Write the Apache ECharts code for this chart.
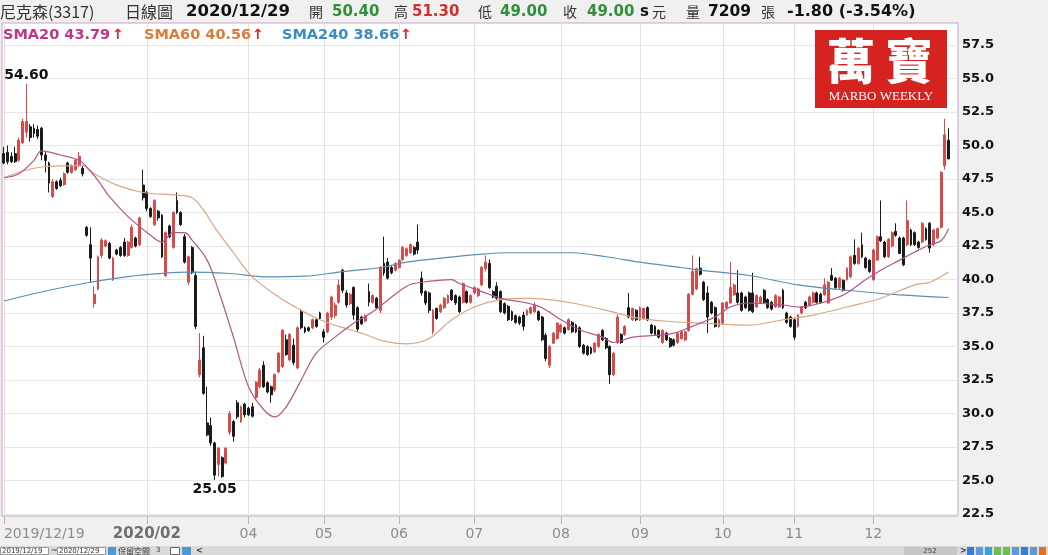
<!DOCTYPE html>
<html><head><meta charset="utf-8">
<script src="https://cdn.jsdelivr.net/npm/echarts@6/dist/echarts.min.js"></script>
<style>html,body{margin:0;padding:0;background:#f0f0f0;}#c{width:1048px;height:555px;}</style>
</head><body><div id="c"></div>
<script>
// [open, close, low, high] per trading day
const candles = [
[49.4,48.7,48.6,49.9],[49.5,48.8,48.6,50.0],[49.2,48.8,48.7,49.5],[49.4,48.8,48.7,49.9],[48.9,50.4,48.8,50.6],
[50.2,51.8,50.1,52.0],[51.0,51.8,50.6,54.6],[51.4,50.6,50.3,51.6],[51.3,50.9,50.6,51.6],[51.2,50.7,50.5,51.5],
[51.3,49.3,48.9,51.4],[49.3,48.9,48.0,49.5],[48.7,47.2,46.5,48.8],[46.2,47.3,46.1,47.5],[47.3,46.8,46.7,47.4],
[47.4,47.0,46.9,47.6],[47.1,47.9,47.0,48.0],[48.7,48.0,47.9,48.8],[48.0,48.5,47.9,48.6],[48.2,48.9,48.1,49.0],
[48.5,49.2,48.4,49.5],[48.3,47.9,47.7,48.5],[43.9,43.3,43.2,44.0],[42.6,41.6,39.8,43.9],[38.2,38.9,37.9,39.5],
[39.3,41.7,39.2,41.8],[41.8,42.95,41.6,43.1],[42.5,42.9,42.4,43.0],[42.7,41.6,41.5,42.8],[40.0,41.6,39.9,41.7],
[42.2,41.9,41.8,42.3],[42.4,41.8,41.7,42.5],[42.8,41.8,41.7,43.1],[41.8,42.8,41.7,42.9],[42.4,43.9,42.3,44.1],
[43.1,42.5,42.4,43.2],[42.6,44.6,42.5,44.7],[47.05,46.1,45.9,48.2],[46.5,45.3,45.1,46.6],[45.3,44.7,44.6,45.4],
[44.1,45.9,44.0,46.0],[45.1,44.6,44.4,45.2],[44.8,41.7,41.6,44.9],[40.3,43.5,40.2,43.6],[44.0,43.2,43.1,44.1],
[42.4,45.0,42.3,45.1],[45.9,45.0,44.9,46.5],[45.0,44.1,44.0,45.1],[43.2,41.3,41.2,43.4],[39.8,41.7,39.6,41.8],
[42.4,40.5,40.4,42.5],[40.3,36.5,36.3,40.6],[32.9,34.0,32.7,36.0],[34.9,31.5,31.4,35.8],[29.3,28.4,28.3,32.0],
[29.1,27.8,27.6,29.7],[27.8,25.4,25.05,27.9],[26.2,27.4,25.3,27.5],[26.7,25.3,25.2,26.8],[26.3,27.4,26.2,27.5],
[28.6,30.0,28.4,30.2],[29.4,28.3,27.9,29.5],[30.8,29.75,29.6,31.0],[29.4,30.5,29.3,30.6],[30.7,29.9,29.7,30.8],
[30.4,29.9,29.8,30.5],[30.5,29.8,29.7,30.8],[31.2,32.35,31.0,32.4],[32.0,33.25,31.9,33.4],[33.6,32.0,31.9,33.9],
[32.3,31.6,31.5,32.4],[32.0,31.4,30.8,32.1],[31.75,32.9,31.6,33.0],[33.1,34.5,33.0,34.6],[33.5,36.2,33.4,36.3],
[35.5,34.4,34.3,35.9],[34.0,35.9,33.9,36.0],[35.1,33.8,33.6,35.6],[33.4,36.4,33.3,36.5],[37.6,36.4,36.3,37.8],
[36.4,36.1,36.0,36.5],[36.4,36.2,36.1,36.5],[36.4,37.0,36.3,37.1],[37.0,36.5,36.4,37.1],[37.5,37.1,37.0,37.6],
[36.1,35.7,35.3,36.3],[36.1,37.5,36.0,37.6],[37.2,38.7,37.0,38.8],[37.3,38.1,37.1,38.3],[38.3,39.6,38.2,40.0],
[40.7,39.2,39.0,40.8],[39.0,38.1,37.9,39.2],[38.2,38.9,38.1,39.0],[39.4,37.35,37.0,39.5],[37.9,36.3,36.1,38.0],
[37.2,36.7,36.6,37.3],[36.9,37.3,36.8,37.4],[39.1,38.3,38.0,39.7],[38.3,38.8,38.2,38.9],[38.6,37.9,37.8,38.7],
[37.7,40.9,37.5,41.0],[41.2,40.5,40.3,43.2],[41.3,40.1,40.0,41.6],[40.9,40.5,40.4,41.0],[40.7,41.2,40.6,41.3],
[40.9,41.45,40.8,41.5],[41.5,42.4,41.4,42.5],[41.8,42.3,41.7,42.4],[42.0,42.6,41.9,42.7],[42.4,41.9,41.8,42.5],
[42.8,42.2,41.9,44.1],[40.1,39.0,38.8,40.6],[39.1,38.25,38.1,39.2],[39.0,37.7,37.5,39.1],[36.1,37.7,35.9,37.8],
[37.85,37.1,37.0,37.9],[37.6,38.1,37.5,38.2],[37.9,38.6,37.8,38.7],[38.25,38.8,38.2,38.9],[39.2,38.5,38.4,39.3],
[38.8,38.25,38.1,38.9],[38.7,37.6,37.5,38.8],[38.3,39.7,38.2,39.8],[39.1,38.3,38.2,39.2],[38.3,38.8,38.2,38.9],
[39.0,39.4,38.9,39.5],[38.8,39.3,38.7,39.4],[39.6,40.9,39.5,41.0],[40.8,41.3,40.6,41.8],[41.2,39.4,39.3,41.5],
[39.1,38.7,38.6,39.2],[39.5,38.6,38.5,39.8],[39.1,37.6,37.5,39.2],[38.2,37.5,37.4,38.3],[38.0,37.0,36.9,38.1],
[37.6,37.0,36.9,37.7],[37.3,36.8,36.7,37.4],[37.2,36.75,36.6,37.3],[37.35,36.5,36.2,37.6],[37.35,37.7,37.3,37.8],
[37.5,37.9,37.4,38.0],[37.6,38.1,37.5,38.3],[37.6,37.0,36.9,37.7],[37.2,35.5,35.4,37.3],[35.85,34.1,33.9,36.0],
[33.6,35.0,33.4,35.1],[35.25,36.0,35.2,36.1],[35.6,36.75,35.5,36.8],[36.1,36.6,36.0,36.7],[36.4,36.0,35.9,36.5],
[36.25,37.0,36.2,37.1],[36.8,36.1,36.0,36.9],[36.6,36.1,36.0,36.7],[36.4,35.0,34.9,36.5],[35.1,34.5,34.4,35.2],
[35.0,34.4,34.3,35.1],[34.9,34.5,34.4,35.0],[34.6,35.25,34.5,35.3],[35.0,35.9,34.9,36.0],[36.2,35.5,35.4,36.3],
[35.6,34.9,34.8,35.7],[35.0,32.9,32.2,35.1],[32.9,34.5,32.8,34.6],[35.3,37.2,35.2,37.4],[35.9,35.3,35.2,36.0],
[35.9,36.5,35.8,36.6],[37.9,37.2,37.1,39.0],[37.0,37.85,36.9,37.9],[37.7,37.0,36.9,37.8],[37.0,37.9,36.9,38.0],
[37.1,37.85,37.0,37.9],[37.9,37.0,36.9,38.0],[36.6,36.0,35.9,36.7],[36.5,35.9,35.8,36.6],[36.2,35.7,35.6,36.3],
[35.3,36.2,35.2,36.3],[36.0,35.5,35.4,36.1],[35.6,35.0,34.9,35.7],[35.5,35.1,35.0,35.6],[35.3,36.0,35.2,36.1],
[35.6,36.1,35.5,36.2],[35.5,36.1,35.4,36.2],[36.2,38.9,36.1,39.0],[38.9,40.6,38.8,41.8],[39.3,40.8,39.2,40.9],
[40.85,40.4,40.3,41.7],[39.8,38.5,38.4,39.9],[39.0,37.2,36.0,39.5],[38.3,37.5,37.4,38.4],[37.9,36.5,36.4,38.0],
[36.5,37.0,36.4,37.1],[36.75,38.25,36.6,38.3],[37.9,38.3,37.8,38.4],[38.25,39.4,38.2,41.3],[38.85,39.6,38.8,39.7],
[39.0,38.3,38.2,40.7],[39.0,37.7,37.6,39.1],[38.7,37.9,37.8,38.8],[39.0,37.7,37.6,39.1],[39.0,37.6,37.5,40.5],
[37.95,38.8,37.9,38.9],[38.25,38.7,38.2,38.8],[39.2,38.3,38.2,39.3],[38.5,37.9,37.8,38.6],[38.3,37.8,37.7,38.4],
[37.95,38.8,37.9,38.9],[37.95,38.7,37.9,38.8],[39.2,37.9,37.8,39.3],[37.5,36.8,36.7,37.6],[37.2,36.5,36.4,37.3],
[37.0,35.7,35.5,37.1],[36.5,37.35,36.4,37.4],[37.5,37.95,37.4,38.0],[38.3,37.9,37.8,38.4],[38.1,38.7,38.0,38.8],
[38.3,39.0,38.2,39.1],[39.0,38.3,38.2,39.1],[38.9,38.3,38.2,39.0],[38.85,39.6,38.8,40.1],[38.25,39.8,38.2,39.9],
[40.3,39.95,39.9,40.85],[40.1,39.4,39.3,40.2],[39.4,40.1,39.3,40.2],[39.95,39.2,39.1,40.0],[40.0,40.85,39.9,40.9],
[40.2,41.7,40.1,41.8],[41.8,41.2,41.1,43.0],[41.2,42.35,41.1,42.4],[42.6,41.7,41.6,43.5],[41.6,40.9,40.8,41.7],
[41.45,40.6,40.5,41.5],[40.0,42.2,39.9,42.3],[41.45,43.2,41.4,43.3],[43.2,42.9,42.8,45.9],[42.8,41.7,41.6,42.9],
[41.7,43.0,41.6,43.1],[42.5,43.5,42.4,43.6],[43.6,43.3,43.2,44.2],[43.1,41.95,41.9,43.2],[43.1,41.1,41.0,43.2],
[42.6,44.4,42.5,45.9],[43.7,42.6,42.5,43.8],[43.5,42.6,42.5,43.6],[42.8,42.4,42.3,42.9],[42.8,44.2,42.7,44.3],
[43.8,43.0,42.9,43.9],[44.2,42.35,42.0,44.3],[42.6,43.7,42.5,43.8],[43.1,43.8,43.0,43.9],[43.9,48.0,43.8,48.1],
[48.5,50.8,48.2,52.0],[50.4,49.0,49.0,51.3]
];

// moving averages: [day index, value]
const sma20 = [[0,47.6],[4,47.9],[8,48.9],[10,49.6],[15,49.3],[20,48.9],[22,48.4],[25,47.4],[28,46.2],[33,44.7],[39,43.3],[42,42.8],[45,43.5],[48,43.5],[50,42.95],[54,41.45],[57,39.2],[61,35.7],[65,32.0],[69,30.3],[72,29.75],[75,30.5],[79,32.5],[83,34.5],[88,35.7],[93,36.75],[98,37.6],[107,39.5],[111,39.8],[119,40.0],[121,39.7],[127,39.1],[132,38.6],[139,38.25],[143,37.9],[148,37.0],[153,36.25],[159,35.7],[162,35.3],[167,35.7],[174,35.85],[178,36.0],[182,36.4],[185,36.75],[189,37.2],[193,37.95],[198,38.25],[207,38.1],[211,37.95],[215,38.1],[220,38.5],[224,39.0],[229,40.0],[233,40.7],[238,41.45],[242,42.05],[246,42.6],[249,42.9],[251,43.79]];
const sma60 = [[0,47.6],[10,48.4],[21,48.5],[24,47.9],[30,47.05],[37,46.5],[46,46.3],[50,46.1],[53,45.2],[56,43.9],[61,42.0],[66,40.2],[73,38.7],[79,37.7],[84,37.0],[89,36.5],[95,36.0],[101,35.4],[107,35.2],[113,35.6],[119,37.0],[125,37.95],[132,38.5],[139,38.6],[145,38.5],[151,38.25],[160,37.7],[169,37.1],[178,36.85],[185,36.75],[198,36.6],[207,37.0],[215,37.35],[224,37.95],[233,38.6],[242,39.6],[246,39.8],[251,40.56]];
const sma240 = [[0,38.4],[12,39.2],[23,39.8],[34,40.26],[49,40.55],[60,40.45],[70,40.2],[80,40.25],[89,40.56],[100,40.9],[107,41.3],[118,41.65],[127,41.9],[134,42.0],[151,42.0],[160,41.7],[169,41.3],[180,40.9],[185,40.7],[198,40.3],[211,39.6],[224,39.2],[238,38.85],[251,38.66]];

const yTicks = [22.5,25,27.5,30,32.5,35,37.5,40,42.5,45,47.5,50,52.5,55,57.5];
const xTickIndex = [0,38,65,85,105,125,148,169,191,210,231];
const xTickLabels = ['2019/12/19','2020/02','04','05','06','07','08','09','10','11','12'];
const holidays = ['2020-01-01','2020-01-21','2020-01-22','2020-01-23','2020-01-24','2020-01-27','2020-01-28','2020-01-29','2020-02-28','2020-04-02','2020-04-03','2020-05-01','2020-06-25','2020-06-26','2020-10-01','2020-10-02','2020-10-09'];

const dates = [];
for (let d = new Date(Date.UTC(2019,11,19)); dates.length < candles.length; d.setUTCDate(d.getUTCDate()+1)) {
  const wd = d.getUTCDay(); const s = d.toISOString().slice(0,10);
  if (wd === 0 || wd === 6 || holidays.includes(s)) continue;
  dates.push(s.replace(/-/g,'/'));
}
const tickMap = {}; xTickIndex.forEach((i,k) => tickMap[i] = xTickLabels[k]);

const NUM = '"DejaVu Sans"';
const CJK = '"Noto Sans CJK TC"';
const T = (x, y, text, font, fill, align) => ({type:'text', x, y, silent:true, z:50,
  style:{text, font, fill, align: align || 'left', verticalAlign:'middle'}});
const R = (x, y, w, h, fill, stroke) => ({type:'rect', silent:true, z:40, shape:{x,y,width:w,height:h},
  style:{fill, stroke: stroke || null, lineWidth: stroke ? 1 : 0}});

const GREEN = '#2f8f3a', RED = '#d22f2f';
const header = [
  T(0,12,'尼克森(3317)','16px '+CJK,'#333'),
  T(125,12,'日線圖','16px '+CJK,'#333'),
  T(186,12,'2020/12/29','bold 16.5px '+NUM,'#111'),
  T(309,12,'開','14px '+CJK,'#333'),
  T(332,12,'50.40','bold 15px '+NUM,GREEN),
  T(394,12,'高','14px '+CJK,'#333'),
  T(412,12,'51.30','bold 15px '+NUM,RED),
  T(478,12,'低','14px '+CJK,'#333'),
  T(500,12,'49.00','bold 15px '+NUM,GREEN),
  T(563,12,'收','14px '+CJK,'#333'),
  T(587,12,'49.00','bold 15px '+NUM,GREEN),
  T(640,12,'s','bold 15px '+NUM,'#111'),
  T(652,12,'元','14px '+CJK,'#333'),
  T(686,12,'量','14px '+CJK,'#333'),
  T(708,12,'7209','bold 15.5px '+NUM,'#111'),
  T(761,12,'張','14px '+CJK,'#333'),
  T(787,12,'-1.80 (-3.54%)','bold 16px '+NUM,'#111')
];
const legend = [
  T(3,35,'SMA20 43.79','bold 14.5px '+NUM,'#c0358a'), T(112,35,'↑','bold 14px '+NUM,'#e02020'),
  T(144,35,'SMA60 40.56','bold 14.5px '+NUM,'#e07a3a'), T(252,35,'↑','bold 14px '+NUM,'#e02020'),
  T(282,35,'SMA240 38.66','bold 14.5px '+NUM,'#3a8cc2'), T(400,35,'↑','bold 14px '+NUM,'#e02020')
];
const logo = [
  R(815,30,132,78,'#d5231f'),
  T(851,61,'萬','900 48px '+CJK,'#fff','center'),
  T(909,61,'寶','900 48px '+CJK,'#fff','center'),
  T(881,97,'MARBO WEEKLY','13px "Liberation Serif"','#fff','center')
];
const iconColors = ['#3a7bd5','#5a9be0','#3aa0d8','#6cc04a','#6cc04a','#5a9be0','#3a7bd5','#5a9be0','#e0702a'];
const strip = [
  R(0,546,1048,9,'#dadada'),
  R(0.5,547.5,48,7,'#fff','#999'), T(2,551,'2019/12/19','7px '+NUM,'#333'),
  T(51,551,'~','8px '+NUM,'#333'),
  R(57.5,547.5,48,7,'#fff','#999'), T(59,551,'2020/12/29','7px '+NUM,'#333'),
  R(108,547,8,8,'#4a9ad8'),
  T(118,551,'保留空間','8px '+CJK,'#333'), T(156,550,'3','7px '+NUM,'#333'),
  R(170.5,547.5,9,7,'#fff','#666'), R(182,547,9,8,'#4a9ad8'), T(196,551,'<','bold 8px '+NUM,'#333'),
  R(904,547,53,8,'#c6c6c6'), T(930,551,'252','7px '+NUM,'#444','center'),
  T(960,551,'>','bold 8px '+NUM,'#333')
].concat(iconColors.map((c,k) => R(967 + k*9, 547, 7, 8, c)));

const option = {
  animation: false,
  backgroundColor: '#f0f0f0',
  grid: {left: 2, right: 90, top: 23, bottom: 39, show: true, backgroundColor: '#fff', borderColor: '#c9a3c6', borderWidth: 1},
  xAxis: {
    type: 'category', data: dates, boundaryGap: true, max: 253,
    axisLine: {show: false},
    axisTick: {show: true, alignWithLabel: true, interval: i => tickMap[i] !== undefined, length: 8, lineStyle: {color: '#b5b5b5'}},
    axisLabel: {
      interval: i => tickMap[i] !== undefined,
      formatter: (v, i) => i === 38 ? '{b|' + tickMap[i] + '}' : (tickMap[i] || ''),
      margin: 11, fontSize: 14, color: '#8c8c8c', fontFamily: 'DejaVu Sans', alignMinLabel: 'left',
      rich: {b: {fontWeight: 'bold', fontSize: 15, color: '#6e6e6e', fontFamily: 'DejaVu Sans'}}
    },
    splitLine: {show: false}
  },
  yAxis: {
    type: 'value', position: 'right', min: 22.35, max: 59.15,
    axisLine: {show: false},
    axisTick: {show: false, customValues: yTicks},
    axisLabel: {customValues: yTicks, formatter: v => v.toFixed(1), margin: 4, fontSize: 13, fontWeight: 'bold', color: '#111', fontFamily: 'DejaVu Sans'},
    splitLine: {show: true, lineStyle: {color: '#e6e6e6', width: 1}}
  },
  series: [
    {type: 'candlestick', name: 'K', data: candles, barWidth: 2.4, z: 3,
      itemStyle: {color: '#d94a4a', color0: '#1b1b1b', borderColor: '#d94a4a', borderColor0: '#1b1b1b', borderWidth: 1},
      markPoint: {
        symbol: 'rect', symbolSize: 1, itemStyle: {color: 'rgba(0,0,0,0)'}, silent: true,
        label: {show: true, color: '#111', fontWeight: 'bold', fontSize: 14, fontFamily: 'DejaVu Sans', formatter: p => Number(p.value).toFixed(2)},
        data: [
          {type: 'max', valueDim: 'highest', label: {position: 'top', distance: 1}},
          {type: 'min', valueDim: 'lowest', label: {position: 'bottom', distance: 2}}
        ]
      }
    },
    {type: 'line', name: 'SMA240', data: sma240, smooth: 0.35, symbol: 'none', z: 4,
      lineStyle: {color: '#5b8fb0', width: 1.2},
      markLine: {silent: true, symbol: 'none', z: 1, label: {show: false}, emphasis: {disabled: true},
        lineStyle: {color: '#e2e2e2', type: 'solid', width: 1},
        data: xTickIndex.map(i => ({xAxis: i}))}
    },
    {type: 'line', name: 'SMA60', data: sma60, smooth: 0.35, symbol: 'none', z: 4,
      lineStyle: {color: '#d8a684', width: 1.2}},
    {type: 'line', name: 'SMA20', data: sma20, smooth: 0.35, symbol: 'none', z: 5,
      lineStyle: {color: '#b2568c', width: 1.2}}
  ],
  graphic: header.concat(legend, logo, strip)
};
const chart = echarts.init(document.getElementById('c'), null, {renderer: 'canvas'});
chart.setOption(option);
</script></body></html>
